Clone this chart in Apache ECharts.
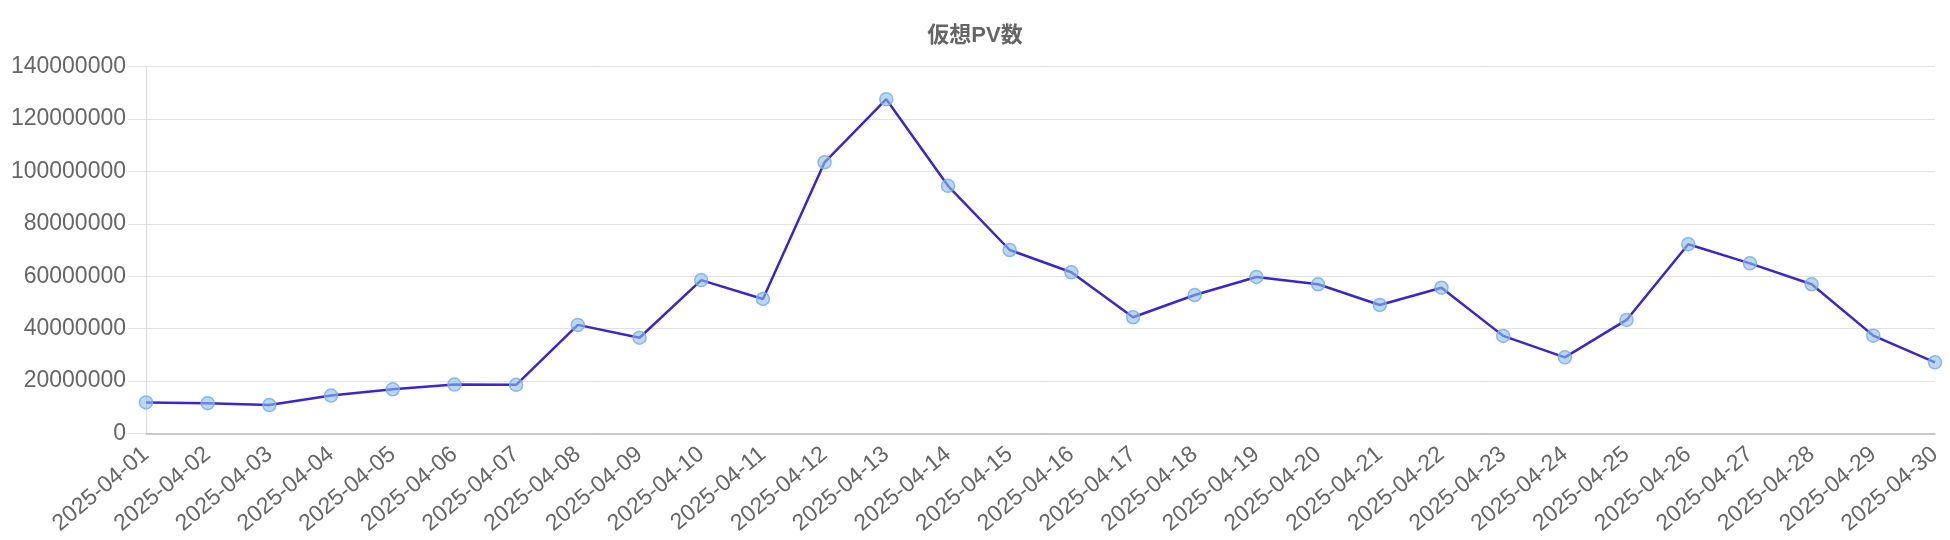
<!DOCTYPE html>
<html>
<head>
<meta charset="utf-8">
<script src="https://cdn.jsdelivr.net/npm/echarts@6/dist/echarts.min.js"></script>
<style>html,body{margin:0;padding:0;background:#fff;}#c{width:1950px;height:540px;}</style>
</head>
<body>
<div id="c"></div>
<script>
const titleText = '仮想PV数';
const categories = ['2025-04-01','2025-04-02','2025-04-03','2025-04-04','2025-04-05','2025-04-06','2025-04-07','2025-04-08','2025-04-09','2025-04-10','2025-04-11','2025-04-12','2025-04-13','2025-04-14','2025-04-15','2025-04-16','2025-04-17','2025-04-18','2025-04-19','2025-04-20','2025-04-21','2025-04-22','2025-04-23','2025-04-24','2025-04-25','2025-04-26','2025-04-27','2025-04-28','2025-04-29','2025-04-30'];
const pvValues = [11800000,11500000,10800000,14400000,16800000,18600000,18500000,41400000,36500000,58500000,51300000,103500000,127600000,94500000,70000000,61500000,44300000,52800000,59700000,56900000,49000000,55600000,37200000,29000000,43300000,72200000,64900000,56900000,37300000,27100000];
const yMin = 0, yMax = 140000000, yStep = 20000000;

const font = "'Liberation Sans', Arial, 'Noto Sans CJK JP', sans-serif";
const chart = echarts.init(document.getElementById('c'), null, {renderer:'canvas'});
chart.setOption({
  animation: false,
  backgroundColor: '#fff',
  title: {
    text: titleText, left: 'center', top: 20,
    textStyle: {fontFamily: font, fontSize: 22, fontWeight: 'bold', color: '#666'}
  },
  grid: {left: 146, right: 15, top: 66.7, bottom: 106.7, containLabel: false},
  xAxis: {
    type: 'category', data: categories, boundaryGap: false,
    axisLine: {show: true, lineStyle: {color: '#bbb', width: 1.5}},
    axisTick: {show: false},
    splitLine: {show: false},
    axisLabel: {rotate: 40, fontFamily: font, fontSize: 23, color: '#666', margin: 18, interval: 0}
  },
  yAxis: {
    type: 'value', min: yMin, max: yMax, interval: yStep,
    axisLine: {show: true, lineStyle: {color: '#ddd', width: 1}},
    axisTick: {show: true, length: 18, lineStyle: {color: '#e2e2e2', width: 1}},
    splitLine: {show: true, lineStyle: {color: '#e2e2e2', width: 1}},
    axisLabel: {fontFamily: font, fontSize: 23, color: '#666', margin: 20, formatter: v => String(v)}
  },
  series: [{
    type: 'line', data: pvValues,
    lineStyle: {color: '#3a26cc', width: 2.5},
    itemStyle: {color: 'rgba(140,190,235,0.6)', borderColor: 'rgba(120,175,225,0.85)', borderWidth: 1.5},
    symbol: 'circle', symbolSize: 13, showAllSymbol: true
  }]
});
</script>
</body>
</html>
